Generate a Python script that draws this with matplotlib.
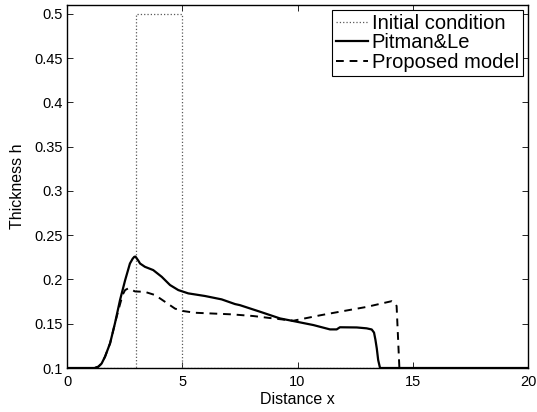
import matplotlib
matplotlib.use('Agg')
import matplotlib.pyplot as plt

plt.rcParams['font.family'] = ['Liberation Sans', 'DejaVu Sans']

# initial condition (dam break)
x_init = [0, 3, 3, 5, 5, 20]
h_init = [0.1, 0.1, 0.5, 0.5, 0.1, 0.1]

# Pitman & Le
x_pl = [0, 1.2, 1.36, 1.5, 1.65, 1.87, 2.08, 2.30, 2.52, 2.73, 2.85, 2.92, 2.97,
        3.02, 3.1, 3.17, 3.38, 3.74, 4.11, 4.47, 4.83, 5.26, 5.99, 6.71, 7.29,
        7.5, 8.37, 9.24, 9.96, 10.69, 11.41, 11.7, 11.84, 12.57, 13.0, 13.22,
        13.32, 13.38, 13.44, 13.5, 13.58, 20]
h_pl = [0.1, 0.1, 0.1015, 0.105, 0.1128, 0.128, 0.1504, 0.1767, 0.199, 0.218,
        0.2235, 0.2256, 0.2258, 0.224, 0.221, 0.218, 0.2143, 0.2106, 0.203, 0.1937,
        0.188, 0.1843, 0.1813, 0.1775, 0.1722, 0.171, 0.1636, 0.156, 0.1523,
        0.1485, 0.1436, 0.1436, 0.146, 0.1458, 0.1448, 0.1435, 0.140, 0.132,
        0.122, 0.109, 0.1, 0.1]

# proposed model
x_pm = [0, 1.2, 1.36, 1.5, 1.65, 1.87, 2.08, 2.30, 2.42, 2.52, 2.66, 2.95, 3.38,
        3.82, 4.25, 4.69, 5.05, 5.55, 7.14, 8.08, 8.95, 9.82, 10.98, 11.84, 13.0,
        14.09, 14.2, 14.3, 14.42, 20]
h_pm = [0.1, 0.1, 0.1015, 0.105, 0.1128, 0.128, 0.1504, 0.172, 0.183, 0.188,
        0.190, 0.1865, 0.186, 0.1824, 0.1748, 0.167, 0.1643, 0.1624, 0.1606,
        0.1587, 0.156, 0.1534, 0.1595, 0.1636, 0.169, 0.1755, 0.174, 0.170, 0.1,
        0.1]

fig = plt.figure(figsize=(5.37, 4.12), dpi=100)
ax = fig.add_axes([67 / 537, 1 - 368 / 412, (528 - 67) / 537, (368 - 5) / 412])

ax.plot(x_init, h_init, ':', color='0.35', lw=0.9, label='Initial condition')
ax.plot(x_pl, h_pl, '-', color='black', lw=1.6, label='Pitman&Le')
ax.plot(x_pm, h_pm, '--', color='black', lw=1.4, dashes=(4, 3), label='Proposed model')

ax.set_xlim(0, 20)
ax.set_ylim(0.1, 0.51)
ax.set_xticks([0, 5, 10, 15, 20])
ax.set_yticks([0.1, 0.15, 0.2, 0.25, 0.3, 0.35, 0.4, 0.45, 0.5])
ax.set_yticklabels(['0.1', '0.15', '0.2', '0.25', '0.3', '0.35', '0.4', '0.45', '0.5'])
ax.tick_params(direction='in', top=True, right=True, length=4, width=0.6,
               labelsize=10.5)
ax.tick_params(axis='x', pad=5)
ax.tick_params(axis='y', pad=3)
for s in ax.spines.values():
    s.set_linewidth(1.0)

ax.set_xlabel('Distance x', fontsize=11.5, labelpad=2)
ax.set_ylabel('Thickness h', fontsize=11.5, labelpad=7)

leg = ax.legend(loc='upper right', bbox_to_anchor=((523 - 67) / 461, (368 - 10) / 363),
                borderaxespad=0, fontsize=14.5, handlelength=1.6, handletextpad=0.2,
                labelspacing=0.02, borderpad=0.2, fancybox=False, framealpha=1,
                edgecolor='black')
leg.get_frame().set_linewidth(0.8)

fig.savefig('out.png', dpi=100)
